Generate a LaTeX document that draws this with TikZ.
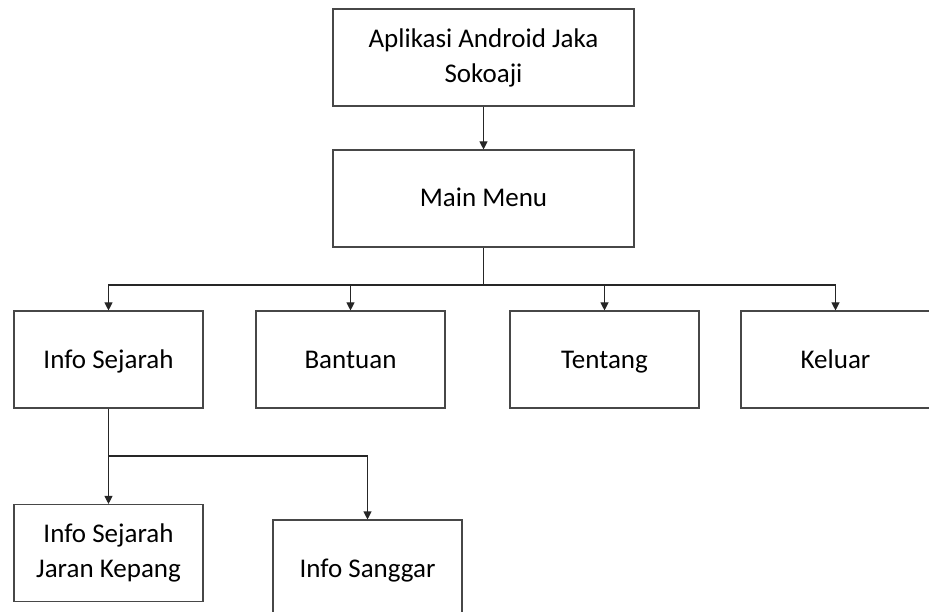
\documentclass[tikz,border=0pt]{standalone}
\usepackage{fontspec}
\setmainfont{Carlito}
\usetikzlibrary{arrows.meta}
\begin{document}
\begin{tikzpicture}[x=1pt,y=-1pt,
  box/.style={draw=black!72, line width=1.1pt, minimum height=97pt,
    align=center, inner sep=0pt, font=\fontsize{27}{35}\selectfont},
  oneline/.style={text height=22pt, text depth=5pt},
  wide/.style={box, minimum width=301pt},
  narrow/.style={box, minimum width=189pt},
  link/.style={draw=black!85, line width=1.1pt},
  arr/.style={link, -{Triangle[width=8pt,length=8pt]}}]
\useasboundingbox (0,0) rectangle (929,612);
\node[wide]            (app)     at (483.5,57.5)  {Aplikasi Android Jaka\\Sokoaji};
\node[wide,oneline]    (menu)    at (483.5,198.5) {Main Menu};
\node[narrow,oneline]  (sejarah) at (108.5,359.5) {Info Sejarah};
\node[narrow,oneline]  (bantuan) at (350.5,359.5) {Bantuan};
\node[narrow,oneline]  (tentang) at (604.5,359.5) {Tentang};
\node[narrow,oneline]  (keluar)  at (835.5,359.5) {Keluar};
\node[narrow]          (jaran)   at (108.5,553)   {Info Sejarah\\Jaran Kepang};
\node[narrow,oneline]  (sanggar) at (367.5,568.5) {Info Sanggar};
% bus lines
\coordinate (bus) at (483.5,285);
\coordinate (subbus) at (108.5,456);
\draw[arr] (app) -- (menu);
\draw[link] (menu.south) -- (bus);
\draw[arr] (bus) -| (sejarah.north);
\draw[arr] (bus) -| (bantuan.north);
\draw[arr] (bus) -| (tentang.north);
\draw[arr] (bus) -| (keluar.north);
\draw[link] (sejarah.south) -- (subbus);
\draw[arr] (subbus) -- (jaran.north);
\draw[arr] (subbus) -| (sanggar.north);
\end{tikzpicture}
\end{document}
